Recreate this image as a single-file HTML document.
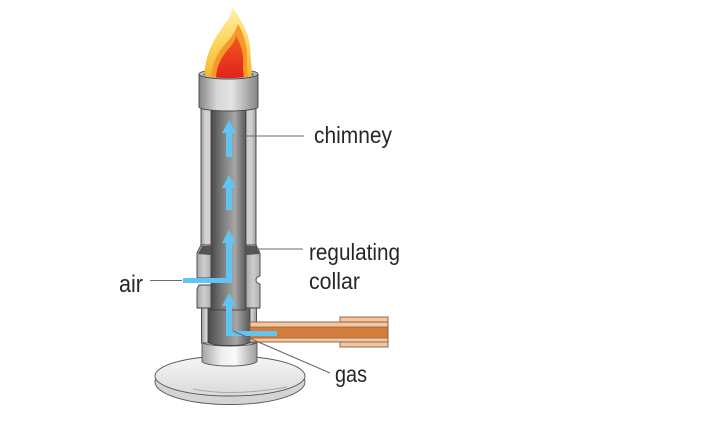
<!DOCTYPE html>
<html>
<head>
<meta charset="utf-8">
<style>
html,body{margin:0;padding:0;background:#fff;}
svg{display:block;}
text{font-family:"Liberation Sans",Arial,sans-serif;fill:#262626;}
</style>
</head>
<body>
<svg width="706" height="435" viewBox="0 0 706 435" xmlns="http://www.w3.org/2000/svg">
<defs>
  <linearGradient id="capG" x1="0" x2="1" y1="0" y2="0">
    <stop offset="0" stop-color="#858585"/>
    <stop offset="0.3" stop-color="#d6d6d6"/>
    <stop offset="0.55" stop-color="#e4e4e4"/>
    <stop offset="1" stop-color="#858585"/>
  </linearGradient>
  <linearGradient id="stripG" x1="0" x2="1" y1="0" y2="0">
    <stop offset="0" stop-color="#9c9c9c"/>
    <stop offset="0.08" stop-color="#d2d2d2"/>
    <stop offset="0.92" stop-color="#cfcfcf"/>
    <stop offset="1" stop-color="#999"/>
  </linearGradient>
  <linearGradient id="chanG" x1="0" x2="1" y1="0" y2="0">
    <stop offset="0" stop-color="#4a4a4a"/>
    <stop offset="0.3" stop-color="#777"/>
    <stop offset="0.68" stop-color="#a6a6a6"/>
    <stop offset="1" stop-color="#585858"/>
  </linearGradient>
  <linearGradient id="collG" x1="0" x2="1" y1="0" y2="0">
    <stop offset="0" stop-color="#a8a8a8"/>
    <stop offset="0.5" stop-color="#cdcdcd"/>
    <stop offset="1" stop-color="#b0b0b0"/>
  </linearGradient>
  <linearGradient id="baseG" x1="0" x2="1" y1="0" y2="0">
    <stop offset="0" stop-color="#a4a4a4"/>
    <stop offset="0.35" stop-color="#eeeeee"/>
    <stop offset="0.6" stop-color="#fafafa"/>
    <stop offset="1" stop-color="#9c9c9c"/>
  </linearGradient>
  <linearGradient id="discG" x1="0" x2="0" y1="0" y2="1">
    <stop offset="0" stop-color="#f6f6f6"/>
    <stop offset="1" stop-color="#d9d9d9"/>
  </linearGradient>
  <linearGradient id="flameY" x1="0" x2="0" y1="0" y2="1">
    <stop offset="0" stop-color="#fff2a8"/>
    <stop offset="0.5" stop-color="#fbd35a"/>
    <stop offset="1" stop-color="#f6b42c"/>
  </linearGradient>
  <linearGradient id="flameR" x1="0" x2="0" y1="0" y2="1">
    <stop offset="0" stop-color="#f05a1e"/>
    <stop offset="1" stop-color="#e0201a"/>
  </linearGradient>
</defs>

<!-- base disc -->
<ellipse cx="230" cy="382" rx="75" ry="22.5" fill="#d4d4d4" stroke="#555" stroke-width="0.9"/>
<ellipse cx="230" cy="376" rx="75" ry="20" fill="url(#discG)" stroke="#555" stroke-width="0.9"/>
<path d="M193,389 Q232,397 287,387" fill="none" stroke="#a8a8a8" stroke-width="1"/>

<!-- base cylinder -->
<path d="M202,342 A27.5,4 0 0 0 257,342 L257,361 A27.5,5 0 0 1 202,361 Z" fill="url(#baseG)" stroke="#555" stroke-width="0.9"/>

<!-- lower tube section -->
<rect x="201.5" y="300" width="55" height="43" fill="url(#stripG)" stroke="#444" stroke-width="0.9"/>
<path d="M208,300 L250,300 L250,342 A21,3.5 0 0 1 208,342 Z" fill="url(#chanG)" stroke="#3a3a3a" stroke-width="0.8"/>

<!-- main tube -->
<rect x="201" y="105" width="55" height="145" fill="url(#stripG)" stroke="#444" stroke-width="0.9"/>
<rect x="211" y="105" width="35" height="205" fill="url(#chanG)" stroke="#3a3a3a" stroke-width="0.8"/>

<!-- collar -->
<polygon points="197,253 201,245 211,245 211,278 197,278" fill="url(#collG)" stroke="#444" stroke-width="0.9"/>
<polygon points="198,254 202,246 211,246 211,255" fill="#555"/>
<polygon points="197,289 199,285 211,285 211,308 197,308" fill="url(#collG)" stroke="#444" stroke-width="0.9"/>
<path d="M246,245 L256,245 L260,253 L260,276 A4,4 0 0 0 260,284 L260,308 L246,308 Z" fill="url(#collG)" stroke="#444" stroke-width="0.9"/>
<polygon points="246,246 256,246 259.5,254 246,255" fill="#555"/>

<!-- cap top (back) -->
<ellipse cx="228.5" cy="74" rx="29.5" ry="5" fill="#b8b8b8" stroke="#444" stroke-width="0.8"/>
<ellipse cx="228.5" cy="74.5" rx="25" ry="3.5" fill="#4a4a4a"/>

<!-- flame -->
<path d="M205,80 C203,60 212,42 222,28 C228,20 232,14 232,7 C240,18 249,32 250,48 C251,62 252,72 252,80 Z" fill="url(#flameY)"/>
<path d="M211,80 C211,63 219,50 229,40 C233,35 236,30 238,24 C244,34 248,48 247,60 C247,70 248,76 248,80 Z" fill="#f59a2a"/>
<path d="M216,80 C216,64 224,53 232,45 C234,42 235,40 236,36 C242,46 244,56 243,66 C243,72 244,78 244,80 Z" fill="url(#flameR)"/>

<!-- cap front -->
<path d="M199,74 A29.5,5 0 0 0 258,74 L253.5,74.5 A25,3.5 0 0 1 203.5,74.5 Z" fill="#b8b8b8"/>
<path d="M199,74 A29.5,5 0 0 0 258,74 L258,107 A29.5,4 0 0 1 199,107 Z" fill="url(#capG)" stroke="#444" stroke-width="0.9"/>

<!-- gas pipe -->
<rect x="340" y="317" width="48" height="30" fill="#f2c7a2" stroke="#8a5a3a" stroke-width="0.9"/>
<rect x="250" y="322" width="138" height="20" fill="#f2c7a2" stroke="#8a5a3a" stroke-width="0.9"/>
<rect x="250" y="327" width="138" height="11" fill="#d37e3c" stroke="#8a5a3a" stroke-width="0.7"/>

<!-- blue arrows -->
<g fill="#62c4f0">
  <path d="M229,120 L236,133 L232,133 L232,157 L226,157 L226,133 L222,133 Z"/>
  <path d="M229,175 L236,188 L232,188 L232,210 L226,210 L226,188 L222,188 Z"/>
  <path d="M229,230 L236,243 L232,243 L232,283 L183,283 L183,278 L226,278 L226,243 L222,243 Z"/>
  <path d="M229,293 L236,306 L232,306 L232,331 L277,331 L277,336 L226,336 L226,306 L222,306 Z"/>
</g>

<!-- leader lines -->
<g stroke="#6a6a6a" stroke-width="1.1" fill="none">
  <line x1="240" y1="136" x2="304" y2="136"/>
  <line x1="258" y1="249" x2="303" y2="249"/>
  <line x1="150" y1="280.5" x2="182" y2="280.5"/>
  <line x1="233" y1="331" x2="330" y2="373"/>
</g>

<!-- labels -->
<text x="314" y="143" font-size="23.5" textLength="78" lengthAdjust="spacingAndGlyphs">chimney</text>
<text x="309" y="260" font-size="23.5" textLength="91" lengthAdjust="spacingAndGlyphs">regulating</text>
<text x="309" y="289" font-size="23.5" textLength="51" lengthAdjust="spacingAndGlyphs">collar</text>
<text x="119" y="292" font-size="24" textLength="24" lengthAdjust="spacingAndGlyphs">air</text>
<text x="335" y="382" font-size="23.5" textLength="32" lengthAdjust="spacingAndGlyphs">gas</text>
</svg>
</body>
</html>
